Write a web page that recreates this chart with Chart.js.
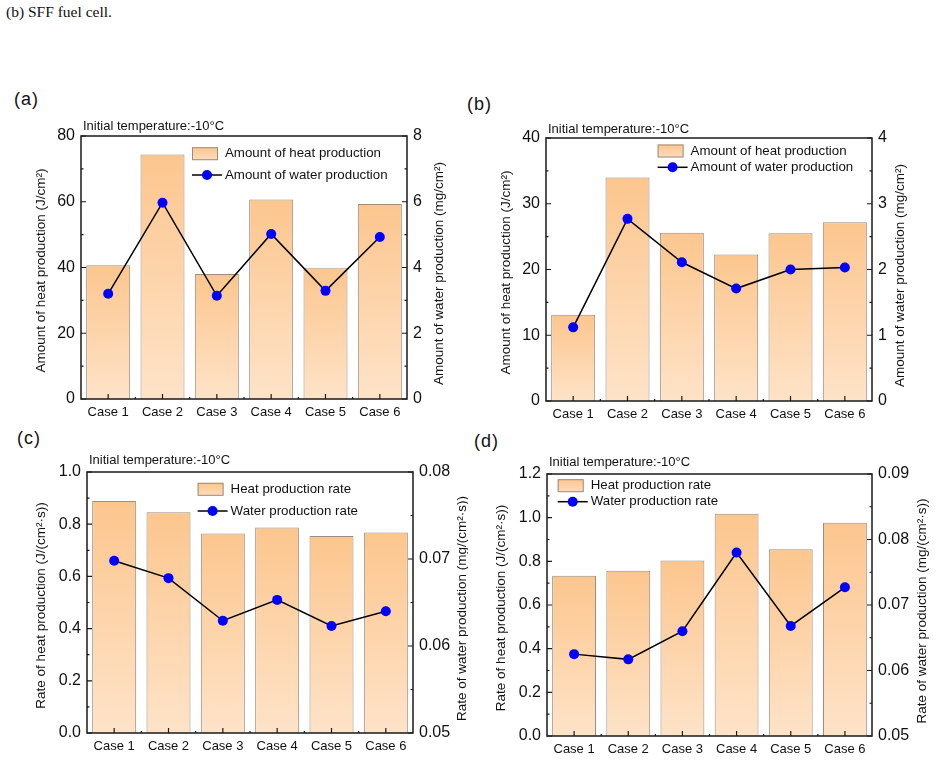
<!DOCTYPE html>
<html>
<head>
<meta charset="utf-8">
<script src="https://cdn.jsdelivr.net/npm/chart.js@4.4.1/dist/chart.umd.min.js"></script>
<style>
  body { margin: 0; background: #fff; }
  #page { position: relative; width: 936px; height: 760px; overflow: hidden; font-family: Arial, "Liberation Sans", sans-serif; }
  .caption { position: absolute; left: 6px; top: 3px; font: 15.5px "Liberation Serif", "Times New Roman", serif; color: #111; }
  .tag { position: absolute; font-size: 18px; letter-spacing: 1px; color: #111; }
  canvas { position: absolute; }
</style>
</head>
<body>
<div id="page">
  <div class="caption">(b) SFF fuel cell.</div>
  <div class="tag" style="left:14px;top:89px">(a)</div>
  <div class="tag" style="left:467px;top:94px">(b)</div>
  <div class="tag" style="left:17px;top:428px">(c)</div>
  <div class="tag" style="left:474px;top:431px">(d)</div>
  <canvas id="chartA" width="468" height="315"></canvas>
  <canvas id="chartB" width="468" height="315"></canvas>
  <canvas id="chartC" width="468" height="315"></canvas>
  <canvas id="chartD" width="468" height="315"></canvas>
</div>
<script>
// categories
const cases = ['Case 1', 'Case 2', 'Case 3', 'Case 4', 'Case 5', 'Case 6'];

// (a) amounts
const heatAmountA = [40.7, 74.4, 38.0, 60.7, 39.8, 59.3];
const waterAmountA = [3.20, 5.97, 3.14, 5.02, 3.29, 4.93];
// (b) amounts, SFF cell
const heatAmountB = [13.1, 34.0, 25.6, 22.3, 25.5, 27.2];
const waterAmountB = [1.12, 2.77, 2.11, 1.71, 2.00, 2.03];
// (c) rates
const heatRateC = [0.889, 0.846, 0.764, 0.787, 0.755, 0.768];
const waterRateC = [0.0698, 0.0678, 0.0629, 0.0653, 0.0623, 0.0640];
// (d) rates
const heatRateD = [0.734, 0.757, 0.804, 1.018, 0.855, 0.977];
const waterRateD = [0.0625, 0.0617, 0.0660, 0.0780, 0.0668, 0.0727];

// tick labels
const ticksLeftA = [0, 20, 40, 60, 80];
const ticksRightA = [0, 2, 4, 6, 8];
const ticksLeftB = [0, 10, 20, 30, 40];
const ticksRightB = [0, 1, 2, 3, 4];
const ticksLeftC = [0, 0.2, 0.4, 0.6, 0.8, 1.0];
const ticksRightC = [0.05, 0.06, 0.07, 0.08];
const ticksLeftD = [0, 0.2, 0.4, 0.6, 0.8, 1.0, 1.2];
const ticksRightD = [0.05, 0.06, 0.07, 0.08, 0.09];

const NOTE = 'Initial temperature:-10\u00B0C';
const FONT = 'Arial, "Liberation Sans", sans-serif';
const INK = '#111';

Chart.defaults.font.family = FONT;
Chart.defaults.color = INK;
Chart.defaults.animation = false;

// layout: canvas box and target plot area, in page pixels
const panels = [
  {
    id: 'chartA', box: [0, 110, 468, 315], area: [81, 136, 407, 399],
    bars: heatAmountA, line: waterAmountA, left: ticksLeftA, right: ticksRightA, decL: 0, decR: 0,
    barLabel: 'Amount of heat production', lineLabel: 'Amount of water production',
    titleL: 'Amount of heat production (J/cm\u00B2)', titleR: 'Amount of water production (mg/cm\u00B2)',
    offL: 40, offR: 32, legend: [111, 17.7, 21.3], noteDy: 9.5
  },
  {
    id: 'chartB', box: [468, 110, 468, 315], area: [546, 138, 872, 401],
    bars: heatAmountB, line: waterAmountB, left: ticksLeftB, right: ticksRightB, decL: 0, decR: 0,
    barLabel: 'Amount of heat production', lineLabel: 'Amount of water production',
    titleL: 'Amount of heat production (J/cm\u00B2)', titleR: 'Amount of water production (mg/cm\u00B2)',
    offL: 40, offR: 28, legend: [111.6, 13, 16.3], noteDy: 9
  },
  {
    id: 'chartC', box: [0, 445, 468, 315], area: [87, 472, 413, 733],
    bars: heatRateC, line: waterRateC, left: ticksLeftC, right: ticksRightC, decL: 1, decR: 2,
    barLabel: 'Heat production rate', lineLabel: 'Water production rate',
    titleL: 'Rate of heat production (J/(cm\u00B2\u00B7s))', titleR: 'Rate of water production (mg/(cm\u00B2\u00B7s))',
    offL: 46, offR: 49, legend: [110.6, 17.3, 21.7], noteDy: 11.5
  },
  {
    id: 'chartD', box: [468, 445, 468, 315], area: [547, 474, 872, 736],
    bars: heatRateD, line: waterRateD, left: ticksLeftD, right: ticksRightD, decL: 1, decR: 2,
    barLabel: 'Heat production rate', lineLabel: 'Water production rate',
    titleL: 'Rate of heat production (J/(cm\u00B2\u00B7s))', titleR: 'Rate of water production (mg/(cm\u00B2\u00B7s))',
    offL: 46, offR: 50, legend: [10.7, 11.7, 16], noteDy: 11.3
  }
];

function barFill(ctx) {
  const chart = ctx.chart;
  const area = chart.chartArea;
  if (!area || ctx.raw === undefined) return '#fdd3a8';
  const top = chart.scales.y.getPixelForValue(ctx.raw);
  const g = chart.ctx.createLinearGradient(0, top, 0, area.bottom);
  g.addColorStop(0, '#fcc68e');
  g.addColorStop(1, '#fee3c8');
  return g;
}

function vText(ctx, text, x, y) {
  ctx.save();
  ctx.translate(x, y);
  ctx.rotate(-Math.PI / 2);
  ctx.textAlign = 'center';
  ctx.textBaseline = 'middle';
  ctx.fillText(text, 0, 0);
  ctx.restore();
}

function drawDecor(chart, p) {
  const ctx = chart.ctx;
  const a = chart.chartArea;
  const yl = chart.scales.y, yr = chart.scales.y1, xs = chart.scales.x;
  ctx.save();

  // frame
  ctx.strokeStyle = '#1a1a1a';
  ctx.lineWidth = 1.5;
  ctx.strokeRect(a.left, a.top, a.right - a.left, a.bottom - a.top);

  // inward ticks, major + minor
  ctx.lineWidth = 1.2;
  ctx.beginPath();
  p.left.forEach((v, i) => {
    const py = yl.getPixelForValue(v);
    ctx.moveTo(a.left, py); ctx.lineTo(a.left + 5, py);
    if (i > 0) {
      const m = yl.getPixelForValue((v + p.left[i - 1]) / 2);
      ctx.moveTo(a.left, m); ctx.lineTo(a.left + 2.5, m);
    }
  });
  p.right.forEach((v, i) => {
    const py = yr.getPixelForValue(v);
    ctx.moveTo(a.right, py); ctx.lineTo(a.right - 5, py);
    if (i > 0) {
      const m = yr.getPixelForValue((v + p.right[i - 1]) / 2);
      ctx.moveTo(a.right, m); ctx.lineTo(a.right - 2.5, m);
    }
  });
  cases.forEach((c, i) => {
    const px = xs.getPixelForValue(i);
    ctx.moveTo(px, a.bottom); ctx.lineTo(px, a.bottom - 5);
    if (i > 0) {
      const m = (px + xs.getPixelForValue(i - 1)) / 2;
      ctx.moveTo(m, a.bottom); ctx.lineTo(m, a.bottom - 2);
    }
  });
  ctx.stroke();

  // axis titles
  ctx.fillStyle = INK;
  ctx.font = '13.5px ' + FONT;
  const midY = (a.top + a.bottom) / 2 + 3;
  vText(ctx, p.titleL, a.left - p.offL, midY);
  vText(ctx, p.titleR, a.right + p.offR, midY + 3);

  // note above the frame
  ctx.font = '13px ' + FONT;
  ctx.textAlign = 'left';
  ctx.textBaseline = 'middle';
  ctx.fillText(NOTE, a.left + 2, a.top - p.noteDy);

  // legend inside the frame
  const lx = a.left + p.legend[0];
  const ly = a.top + p.legend[1];
  const g = ctx.createLinearGradient(0, ly - 6.5, 0, ly + 6.5);
  g.addColorStop(0, '#fcc68e');
  g.addColorStop(1, '#fedcbc');
  ctx.fillStyle = g;
  ctx.fillRect(lx, ly - 6.5, 26, 13);
  ctx.strokeStyle = '#9c8c80';
  ctx.lineWidth = 1;
  ctx.strokeRect(lx + 0.5, ly - 6, 25, 12);
  const ly2 = ly + p.legend[2];
  ctx.strokeStyle = '#000';
  ctx.lineWidth = 1.5;
  ctx.beginPath();
  ctx.moveTo(lx, ly2); ctx.lineTo(lx + 30, ly2);
  ctx.stroke();
  ctx.fillStyle = '#0000ff';
  ctx.beginPath();
  ctx.arc(lx + 15, ly2, 5, 0, Math.PI * 2);
  ctx.fill();
  ctx.fillStyle = INK;
  ctx.font = '13.3px ' + FONT;
  ctx.fillText(p.barLabel, lx + 33, ly);
  ctx.fillText(p.lineLabel, lx + 33, ly2);

  ctx.restore();
}

function makeChart(p) {
  const [bx, by, bw, bh] = p.box;
  const [al, at, ar, ab] = p.area;
  const canvas = document.getElementById(p.id);
  canvas.style.left = bx + 'px';
  canvas.style.top = by + 'px';

  const wL = al - bx, wR = bx + bw - ar, hX = by + bh - ab;

  return new Chart(canvas, {
    data: {
      labels: cases,
      datasets: [
        {
          type: 'line', label: p.lineLabel, data: p.line, yAxisID: 'y1', order: 0,
          borderColor: '#000', borderWidth: 1.5,
          pointBackgroundColor: '#0000ff', pointBorderWidth: 0, pointRadius: 5,
          tension: 0
        },
        {
          type: 'bar', label: p.barLabel, data: p.bars, yAxisID: 'y', order: 1,
          backgroundColor: barFill, borderColor: '#9c8c80', borderWidth: 1,
          barPercentage: 0.81, categoryPercentage: 1
        }
      ]
    },
    options: {
      responsive: false,
      layout: { padding: { top: at - by, left: 0, right: 0, bottom: 0 } },
      plugins: { legend: { display: false }, tooltip: { enabled: false } },
      scales: {
        x: {
          grid: { display: false, drawTicks: false },
          border: { display: false },
          ticks: { font: { size: 13 }, padding: 6, color: INK, maxRotation: 0 },
          afterFit: s => { s.height = hX; }
        },
        y: {
          position: 'left',
          min: p.left[0], max: p.left[p.left.length - 1],
          grid: { display: false, drawTicks: false },
          border: { display: false },
          ticks: { font: { size: 16 }, padding: 6, color: INK, callback: v => Number(v).toFixed(p.decL) },
          afterBuildTicks: s => { s.ticks = p.left.map(v => ({ value: v })); },
          afterFit: s => { s.width = wL; }
        },
        y1: {
          position: 'right',
          min: p.right[0], max: p.right[p.right.length - 1],
          grid: { display: false, drawTicks: false },
          border: { display: false },
          ticks: { font: { size: 16 }, padding: 6, color: INK, callback: v => Number(v).toFixed(p.decR) },
          afterBuildTicks: s => { s.ticks = p.right.map(v => ({ value: v })); },
          afterFit: s => { s.width = wR; }
        }
      }
    },
    plugins: [{ id: 'decor', afterDatasetsDraw: chart => drawDecor(chart, p) }]
  });
}

panels.forEach(makeChart);
</script>
</body>
</html>
